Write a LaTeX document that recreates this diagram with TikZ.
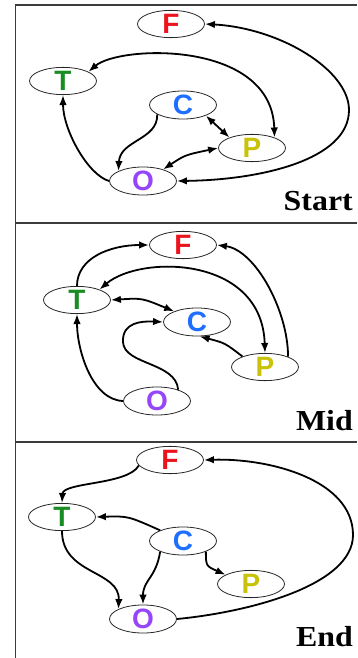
\documentclass[tikz,border=0pt]{standalone}
\usepackage{fontspec}
\setmainfont{Liberation Serif}
\newfontfamily\lettfont{Liberation Sans}
\usetikzlibrary{shapes.geometric,arrows.meta}
\definecolor{cF}{RGB}{235,20,30}
\definecolor{cT}{RGB}{25,140,35}
\definecolor{cC}{RGB}{30,110,255}
\definecolor{cP}{RGB}{200,195,10}
\definecolor{cO}{RGB}{150,70,250}
\definecolor{frm}{RGB}{60,60,60}
\tikzset{
  st/.style={ellipse,draw=black!85,line width=0.8pt,minimum width=67pt,minimum height=27pt,inner sep=0pt,
    font=\lettfont\bfseries\fontsize{28}{28}\selectfont},
  ed/.style={line width=1.8pt,black},
  tip/.tip={Latex[length=10pt,width=7.5pt]},
  lab/.style={anchor=base east,inner sep=0pt,font=\bfseries\fontsize{29}{29}\selectfont},
  frame/.style={draw=frm,line width=1.5pt}
}
\begin{document}
\begin{tikzpicture}[x=1pt,y=-1pt]
\useasboundingbox (0,0) rectangle (357,658);
\draw[frame] (15.5,658) -- (15.5,5) -- (357,5);
\draw[frame] (15.5,223) -- (357,223);
\draw[frame] (15.5,442) -- (357,442);
% ---- Start
\node[st,text=cF] (F1) at (171,24) {F};
\node[st,text=cT] (T1) at (63,81) {T};
\node[st,text=cC] (C1) at (183,105) {C};
\node[st,text=cP] (P1) at (252,148) {P};
\node[st,text=cO] (O1) at (143,181) {O};
\node[lab] (L1) at (353,210.7) {\scalebox{1.1}[1]{Start}};
\draw[ed,tip-tip] (O1.east) .. controls (260,180) and (349,160) .. (349,110) .. controls (349,70) and (280,28) .. (F1.east);
\draw[ed,tip-tip] (T1.20) .. controls (120,45) and (272,40) .. (P1.25);
\draw[ed,-tip] (O1.west) .. controls (88,175) and (63,130) .. (T1.south);
\draw[ed,-tip] (C1.200) .. controls (158,140) and (120,140) .. (O1.158);
\draw[ed,tip-tip] (C1.335) -- (P1.155);
\draw[ed,tip-tip] (O1.30) .. controls (185,155) .. (P1.west);
% ---- Mid
\node[st,text=cF] (F2) at (183,245) {F};
\node[st,text=cT] (T2) at (77,300) {T};
\node[st,text=cC] (C2) at (197,322) {C};
\node[st,text=cP] (P2) at (265,367) {P};
\node[st,text=cO] (O2) at (157,401) {O};
\node[lab] (L2) at (353,430) {\scalebox{1.1}[1]{Mid}};
\draw[ed,-tip] (T2.north) .. controls (77,258) and (110,245) .. (F2.west);
\draw[ed,-tip] (P2.24) .. controls (288,310) and (255,250) .. (F2.east);
\draw[ed,tip-tip] (T2.25) .. controls (140,255) and (262,255) .. (P2.north);
\draw[ed,tip-tip] (T2.east) .. controls (142,298) .. (C2.155);
\draw[ed,-tip] (O2.28) .. controls (176,362) and (124,365) .. (123,342) .. controls (122,322) and (142,321) .. (C2.west);
\draw[ed,-tip] (P2.155) .. controls (225,343) .. (C2.-80);
\draw[ed,-tip] (O2.west) .. controls (92,400) and (77,350) .. (T2.south);
% ---- End
\node[st,text=cF] (F3) at (170,460) {F};
\node[st,text=cT] (T3) at (62,517) {T};
\node[st,text=cC] (C3) at (183,541) {C};
\node[st,text=cP] (P3) at (251,584) {P};
\node[st,text=cO] (O3) at (143,619) {O};
\node[lab] (L3) at (353,646.5) {\scalebox{1.1}[1]{End}};
\draw[ed,-tip] (F3.190) .. controls (128,485) and (63,482) .. (T3.north);
\draw[ed,-tip] (C3.155) .. controls (128,516) .. (T3.east);
\draw[ed,-tip] (T3.south) .. controls (62,575) and (120,570) .. (O3.158);
\draw[ed,-tip] (C3.205) .. controls (156,578) and (143,580) .. (O3.north);
\draw[ed,-tip] (C3.335) .. controls (206,566) .. (P3.160);
\draw[ed,-tip] (O3.east) .. controls (250,612) and (353,585) .. (353,535) .. controls (353,480) and (270,458) .. (F3.east);
\end{tikzpicture}
\end{document}
